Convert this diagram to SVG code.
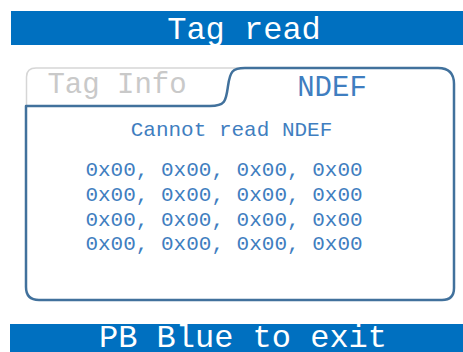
<svg xmlns="http://www.w3.org/2000/svg" width="463" height="352" viewBox="0 0 463 352">
  <style>
    .bar { fill: #0070C0; }
    .bar-text { fill: #FFFFFF; font-family: "Liberation Mono", "Courier New", monospace; font-size: 32px; text-anchor: middle; }
    .tab-text { font-family: "Liberation Mono", "Courier New", monospace; font-size: 29px; }
    .body-text { fill: #3F7EC0; font-family: "Liberation Mono", "Courier New", monospace; font-size: 21px; text-anchor: middle; }
  </style>
  <rect x="0" y="0" width="463" height="352" fill="#FFFFFF"/>

  <g id="title-bar">
    <rect class="bar" x="11" y="11" width="452" height="34"/>
    <text class="bar-text" x="244" y="39">Tag read</text>
  </g>

  <g id="tab-tag-info">
    <path d="M26.5 106 L26.5 77 Q26.5 68 36 68 L240 68" fill="none" stroke="#D6D6D6" stroke-width="1.5"/>
    <text class="tab-text" x="117" y="93" fill="#C9C9C9" text-anchor="middle">Tag Info</text>
  </g>

  <g id="tab-ndef">
    <path d="M26 106 L210 106 C226 106 226 100 228 86 C230 72 232 68 245 68 L438 68 Q454 68 454 84 L454 288 Q454 300 442 300 L39 300 Q26 300 26 287 Z"
          fill="none" stroke="#41719C" stroke-width="2.5" stroke-linejoin="round"/>
    <text class="tab-text" x="332" y="96" fill="#3F7EC0" text-anchor="middle">NDEF</text>
  </g>

  <g id="content">
    <text class="body-text" x="231.5" y="136">Cannot read NDEF</text>
    <text class="body-text" x="224" y="176">0x00, 0x00, 0x00, 0x00</text>
    <text class="body-text" x="224" y="201">0x00, 0x00, 0x00, 0x00</text>
    <text class="body-text" x="224" y="226">0x00, 0x00, 0x00, 0x00</text>
    <text class="body-text" x="224" y="250">0x00, 0x00, 0x00, 0x00</text>
  </g>

  <g id="footer-bar">
    <rect class="bar" x="10" y="324" width="453" height="28"/>
    <text class="bar-text" x="243" y="347">PB Blue to exit</text>
  </g>
</svg>
